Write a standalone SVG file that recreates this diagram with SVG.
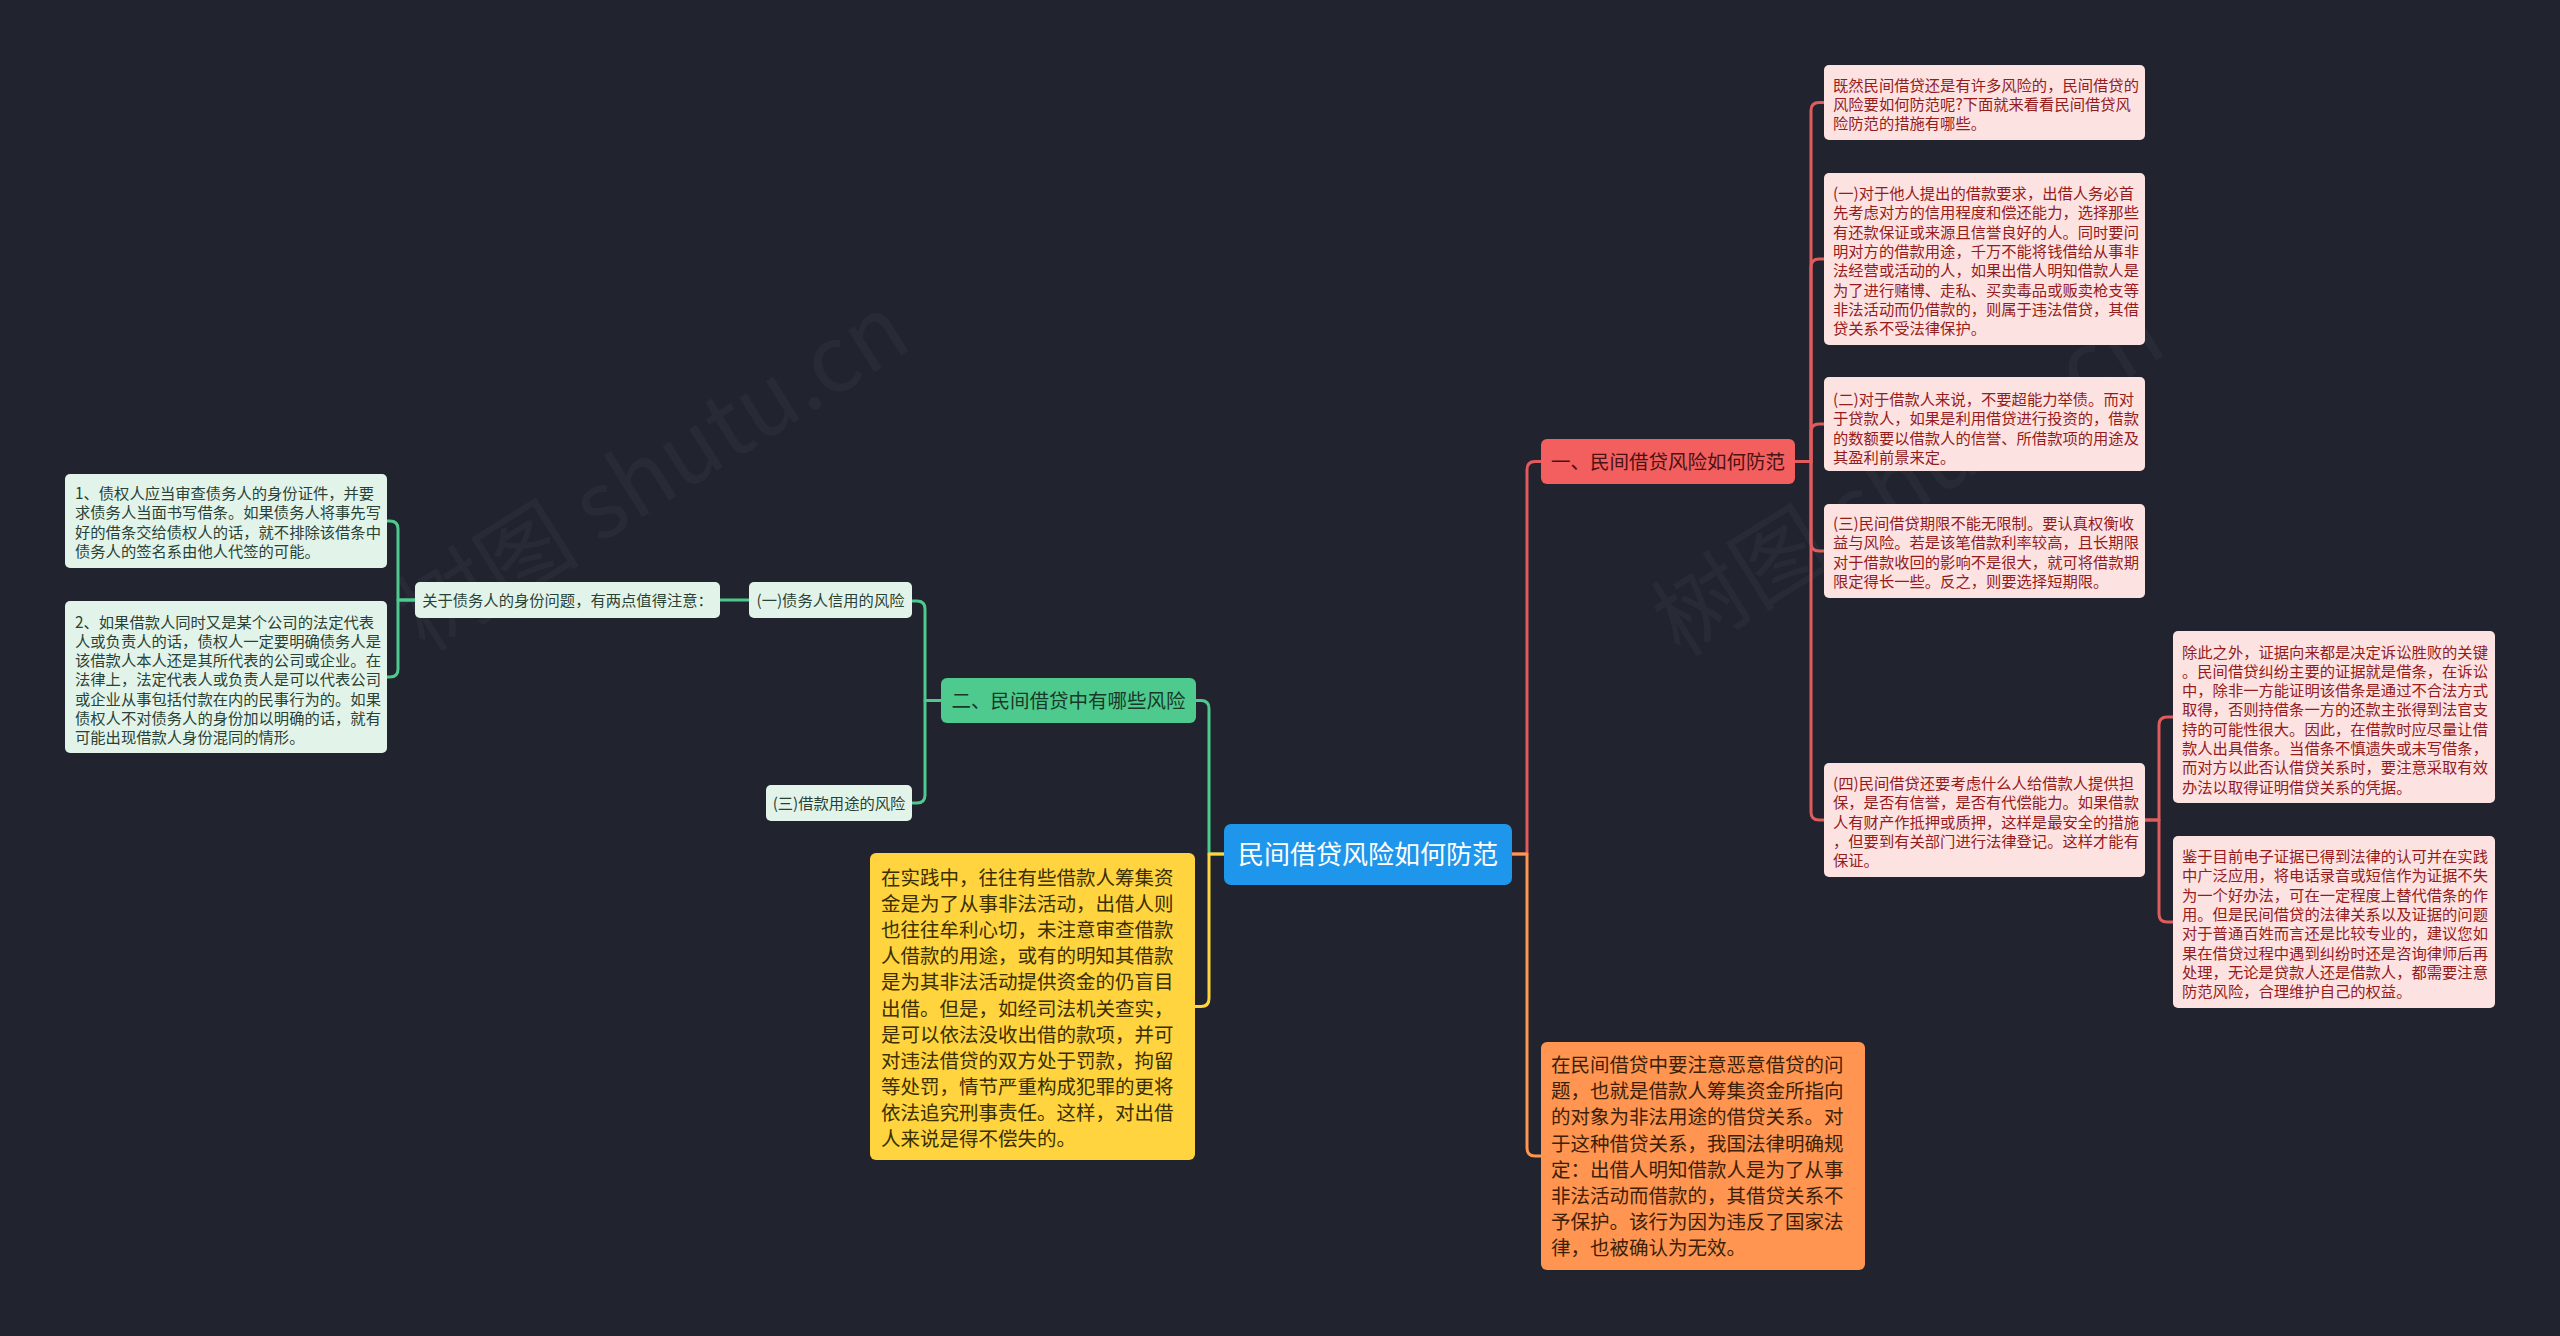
<svg xmlns="http://www.w3.org/2000/svg" width="2560" height="1336" viewBox="0 0 2560 1336">
<style>
text{font-family:"Noto Sans CJK SC","Noto Sans",sans-serif}
.wm{font-size:92px;fill:#8a8a8a;opacity:0.07}
.ln{fill:none;stroke-width:3;stroke-linecap:round;stroke-linejoin:round}
.lr{stroke:#e05c5c}.lg{stroke:#4fca8e}.ly{stroke:#ffd43f}.lo{stroke:#ff9550}
.rs{fill:#fde2e2}.rt{font-size:15.3px;fill:#941c1c}
.gs{fill:#e2f4ea}.gt{font-size:15.3px;fill:#2a4236}
.big{font-size:19.5px}
</style>
<rect width="2560" height="1336" fill="#21232f"/>
<text class="wm" transform="translate(670,500) rotate(-32)" text-anchor="middle">树图 shutu.cn</text>
<text class="wm" transform="translate(1925,505) rotate(-32)" text-anchor="middle">树图 shutu.cn</text>
<g id="connectors">
<path class="ln lg" d="M1224,854 H1209 V708.5 Q1209,700.5 1201,700.5 H1196"/>
<path class="ln ly" d="M1224,854 H1209 V998.5 Q1209,1006.5 1201,1006.5 H1195"/>
<path class="ln lr" d="M1512,854 H1527 V469.5 Q1527,461.5 1535,461.5 H1541"/>
<path class="ln lo" d="M1512,854 H1527 V1148 Q1527,1156 1535,1156 H1541"/>
<path class="ln lg" d="M941,700.5 H925 V609 Q925,601 917,601 H912"/>
<path class="ln lg" d="M941,700.5 H925 V795 Q925,803 917,803 H912"/>
<path class="ln lg" d="M749,600 H720"/>
<path class="ln lg" d="M415,600 H398 V529 Q398,521 390,521 H387"/>
<path class="ln lg" d="M415,600 H398 V669 Q398,677 390,677 H387"/>
<path class="ln lr" d="M1795,461.5 H1811 V110.5 Q1811,102.5 1819,102.5 H1824"/>
<path class="ln lr" d="M1795,461.5 H1811 V267 Q1811,259 1819,259 H1824"/>
<path class="ln lr" d="M1795,461.5 H1811 V432 Q1811,424 1819,424 H1824"/>
<path class="ln lr" d="M1795,461.5 H1811 V543 Q1811,551 1819,551 H1824"/>
<path class="ln lr" d="M1795,461.5 H1811 V812 Q1811,820 1819,820 H1824"/>
<path class="ln lr" d="M2145,820 H2159 V725 Q2159,717 2167,717 H2173"/>
<path class="ln lr" d="M2145,820 H2159 V914 Q2159,922 2167,922 H2173"/>
</g>
<g id="root">
<rect x="1224" y="824" width="288" height="61" rx="7" fill="#1e96eb"/>
<text x="1368" y="864" text-anchor="middle" font-size="26" fill="#ffffff">民间借贷风险如何防范</text>
</g>
<g id="n-red">
<rect x="1541" y="439" width="254" height="45" rx="6" fill="#f35f5f"/>
<text x="1668" y="469" text-anchor="middle" class="big" fill="#4a1212">一、民间借贷风险如何防范</text>
</g>
<g id="n-green">
<rect x="941" y="678" width="255" height="45" rx="6" fill="#4fca8e"/>
<text x="1068.5" y="708" text-anchor="middle" class="big" fill="#173a28">二、民间借贷中有哪些风险</text>
</g>
<g id="n-yellow">
<rect x="870" y="853" width="325" height="307" rx="6" fill="#ffd43f"/>
<text class="big" fill="#3a2f00" x="881" y="885"><tspan x="881">在实践中，往往有些借款人筹集资</tspan><tspan x="881" dy="26.1">金是为了从事非法活动，出借人则</tspan><tspan x="881" dy="26.1">也往往牟利心切，未注意审查借款</tspan><tspan x="881" dy="26.1">人借款的用途，或有的明知其借款</tspan><tspan x="881" dy="26.1">是为其非法活动提供资金的仍盲目</tspan><tspan x="881" dy="26.1">出借。但是，如经司法机关查实，</tspan><tspan x="881" dy="26.1">是可以依法没收出借的款项，并可</tspan><tspan x="881" dy="26.1">对违法借贷的双方处于罚款，拘留</tspan><tspan x="881" dy="26.1">等处罚，情节严重构成犯罪的更将</tspan><tspan x="881" dy="26.1">依法追究刑事责任。这样，对出借</tspan><tspan x="881" dy="26.1">人来说是得不偿失的。</tspan></text>
</g>
<g id="n-orange">
<rect x="1541" y="1042" width="324" height="228" rx="6" fill="#ff9550"/>
<text class="big" fill="#3d1f08" x="1551" y="1072"><tspan x="1551">在民间借贷中要注意恶意借贷的问</tspan><tspan x="1551" dy="26.2">题，也就是借款人筹集资金所指向</tspan><tspan x="1551" dy="26.2">的对象为非法用途的借贷关系。对</tspan><tspan x="1551" dy="26.2">于这种借贷关系，我国法律明确规</tspan><tspan x="1551" dy="26.2">定：出借人明知借款人是为了从事</tspan><tspan x="1551" dy="26.2">非法活动而借款的，其借贷关系不</tspan><tspan x="1551" dy="26.2">予保护。该行为因为违反了国家法</tspan><tspan x="1551" dy="26.2">律，也被确认为无效。</tspan></text>
</g>
<g id="n-r1">
<rect class="rs" x="1824" y="65" width="321" height="75" rx="5"/>
<text class="rt" x="1833" y="90.5"><tspan x="1833">既然民间借贷还是有许多风险的，民间借贷的</tspan><tspan x="1833" dy="19.3">风险要如何防范呢?下面就来看看民间借贷风</tspan><tspan x="1833" dy="19.3">险防范的措施有哪些。</tspan></text>
</g>
<g id="n-r2">
<rect class="rs" x="1824" y="173" width="321" height="172" rx="5"/>
<text class="rt" x="1833" y="199"><tspan x="1833">(一)对于他人提出的借款要求，出借人务必首</tspan><tspan x="1833" dy="19.3">先考虑对方的信用程度和偿还能力，选择那些</tspan><tspan x="1833" dy="19.3">有还款保证或来源且信誉良好的人。同时要问</tspan><tspan x="1833" dy="19.3">明对方的借款用途，千万不能将钱借给从事非</tspan><tspan x="1833" dy="19.3">法经营或活动的人，如果出借人明知借款人是</tspan><tspan x="1833" dy="19.3">为了进行赌博、走私、买卖毒品或贩卖枪支等</tspan><tspan x="1833" dy="19.3">非法活动而仍借款的，则属于违法借贷，其借</tspan><tspan x="1833" dy="19.3">贷关系不受法律保护。</tspan></text>
</g>
<g id="n-r3">
<rect class="rs" x="1824" y="377" width="321" height="94" rx="5"/>
<text class="rt" x="1833" y="405"><tspan x="1833">(二)对于借款人来说，不要超能力举债。而对</tspan><tspan x="1833" dy="19.3">于贷款人，如果是利用借贷进行投资的，借款</tspan><tspan x="1833" dy="19.3">的数额要以借款人的信誉、所借款项的用途及</tspan><tspan x="1833" dy="19.3">其盈利前景来定。</tspan></text>
</g>
<g id="n-r4">
<rect class="rs" x="1824" y="504" width="321" height="94" rx="5"/>
<text class="rt" x="1833" y="529"><tspan x="1833">(三)民间借贷期限不能无限制。要认真权衡收</tspan><tspan x="1833" dy="19.3">益与风险。若是该笔借款利率较高，且长期限</tspan><tspan x="1833" dy="19.3">对于借款收回的影响不是很大，就可将借款期</tspan><tspan x="1833" dy="19.3">限定得长一些。反之，则要选择短期限。</tspan></text>
</g>
<g id="n-r5">
<rect class="rs" x="1824" y="763" width="321" height="114" rx="5"/>
<text class="rt" x="1833" y="789"><tspan x="1833">(四)民间借贷还要考虑什么人给借款人提供担</tspan><tspan x="1833" dy="19.3">保，是否有信誉，是否有代偿能力。如果借款</tspan><tspan x="1833" dy="19.3">人有财产作抵押或质押，这样是最安全的措施</tspan><tspan x="1833" dy="19.3">，但要到有关部门进行法律登记。这样才能有</tspan><tspan x="1833" dy="19.3">保证。</tspan></text>
</g>
<g id="n-r6">
<rect class="rs" x="2173" y="631" width="322" height="172" rx="5"/>
<text class="rt" x="2182" y="657.5"><tspan x="2182">除此之外，证据向来都是决定诉讼胜败的关键</tspan><tspan x="2182" dy="19.3">。民间借贷纠纷主要的证据就是借条，在诉讼</tspan><tspan x="2182" dy="19.3">中，除非一方能证明该借条是通过不合法方式</tspan><tspan x="2182" dy="19.3">取得，否则持借条一方的还款主张得到法官支</tspan><tspan x="2182" dy="19.3">持的可能性很大。因此，在借款时应尽量让借</tspan><tspan x="2182" dy="19.3">款人出具借条。当借条不慎遗失或未写借条，</tspan><tspan x="2182" dy="19.3">而对方以此否认借贷关系时，要注意采取有效</tspan><tspan x="2182" dy="19.3">办法以取得证明借贷关系的凭据。</tspan></text>
</g>
<g id="n-r7">
<rect class="rs" x="2173" y="836" width="322" height="172" rx="5"/>
<text class="rt" x="2182" y="862"><tspan x="2182">鉴于目前电子证据已得到法律的认可并在实践</tspan><tspan x="2182" dy="19.3">中广泛应用，将电话录音或短信作为证据不失</tspan><tspan x="2182" dy="19.3">为一个好办法，可在一定程度上替代借条的作</tspan><tspan x="2182" dy="19.3">用。但是民间借贷的法律关系以及证据的问题</tspan><tspan x="2182" dy="19.3">对于普通百姓而言还是比较专业的，建议您如</tspan><tspan x="2182" dy="19.3">果在借贷过程中遇到纠纷时还是咨询律师后再</tspan><tspan x="2182" dy="19.3">处理，无论是贷款人还是借款人，都需要注意</tspan><tspan x="2182" dy="19.3">防范风险，合理维护自己的权益。</tspan></text>
</g>
<g id="n-g1">
<rect class="gs" x="749" y="582" width="163" height="36" rx="5"/>
<text class="gt" x="830.5" y="605.8" text-anchor="middle">(一)债务人信用的风险</text>
</g>
<g id="n-g2">
<rect class="gs" x="766" y="785" width="146" height="36" rx="5"/>
<text class="gt" x="839" y="808.8" text-anchor="middle">(三)借款用途的风险</text>
</g>
<g id="n-g3">
<rect class="gs" x="415" y="582" width="305" height="36" rx="5"/>
<text class="gt" x="567.5" y="605.8" text-anchor="middle">关于债务人的身份问题，有两点值得注意：</text>
</g>
<g id="n-g4">
<rect class="gs" x="65" y="474" width="322" height="94" rx="5"/>
<text class="gt" x="75" y="499"><tspan x="75">1、债权人应当审查债务人的身份证件，并要</tspan><tspan x="75" dy="19.3">求债务人当面书写借条。如果债务人将事先写</tspan><tspan x="75" dy="19.3">好的借条交给债权人的话，就不排除该借条中</tspan><tspan x="75" dy="19.3">债务人的签名系由他人代签的可能。</tspan></text>
</g>
<g id="n-g5">
<rect class="gs" x="65" y="601" width="322" height="152" rx="5"/>
<text class="gt" x="75" y="627.5"><tspan x="75">2、如果借款人同时又是某个公司的法定代表</tspan><tspan x="75" dy="19.3">人或负责人的话，债权人一定要明确债务人是</tspan><tspan x="75" dy="19.3">该借款人本人还是其所代表的公司或企业。在</tspan><tspan x="75" dy="19.3">法律上，法定代表人或负责人是可以代表公司</tspan><tspan x="75" dy="19.3">或企业从事包括付款在内的民事行为的。如果</tspan><tspan x="75" dy="19.3">债权人不对债务人的身份加以明确的话，就有</tspan><tspan x="75" dy="19.3">可能出现借款人身份混同的情形。</tspan></text>
</g>
</svg>
